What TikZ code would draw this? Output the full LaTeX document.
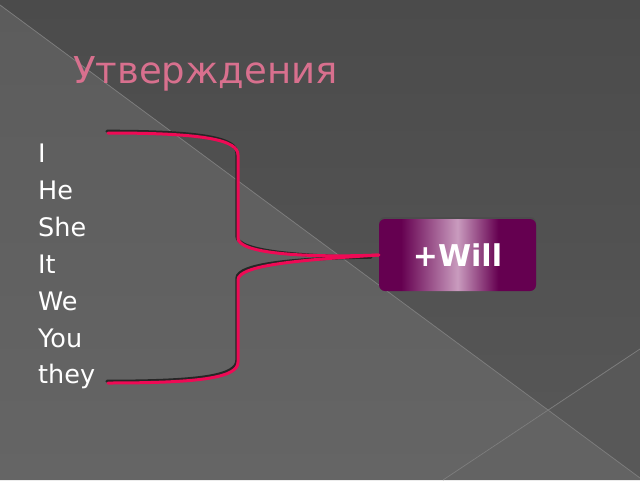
\documentclass[tikz,border=0pt]{standalone}
\usepackage{fontspec}
\setmainfont{DejaVu Sans}
\usetikzlibrary{calc}
\definecolor{bgA}{HTML}{4B4B4B}
\definecolor{bgAb}{HTML}{565656}
\definecolor{bgB}{HTML}{5C5C5C}
\definecolor{bgBb}{HTML}{656565}
\definecolor{bgC}{HTML}{585858}
\definecolor{bgD}{HTML}{636363}
\definecolor{edge}{HTML}{7A7A7A}
\definecolor{titlepink}{HTML}{D8708E}
\definecolor{bracepink}{HTML}{EE0A55}
\definecolor{willdark}{HTML}{650050}
\definecolor{willlight}{HTML}{C99BBE}
\pgfdeclarehorizontalshading{willshade}{100bp}{color(0bp)=(willdark); color(25bp)=(willdark); color(32bp)=(willdark); color(50bp)=(willlight); color(63bp)=(willdark); color(75bp)=(willdark); color(100bp)=(willdark)}
\tikzset{
  listword/.style={anchor=base west, text=white, font=\fontsize{25.5}{30}\selectfont, inner sep=0pt},
  bracepath/.style={draw=bracepink, line width=3pt, line cap=round},
  braceshadow/.style={draw=black!85, line width=3pt, line cap=round},
  edgeline/.style={draw=edge, line width=0.8pt},
  willbox/.style={shading=willshade, rounded corners=6pt, minimum width=157pt, minimum height=72pt, inner sep=0pt, text=white, font=\bfseries\fontsize{30}{34}\selectfont}
}
\begin{document}
\begin{tikzpicture}[x=1pt,y=-1pt]
\useasboundingbox (0,0) rectangle (640,480);
% background regions
\shade[top color=bgA, bottom color=bgAb] (0,0) -- (640,0) -- (640,349) -- (548,410) -- (0,5) -- cycle;
\shade[top color=bgB, bottom color=bgBb] (0,5) -- (548,410) -- (443,480) -- (0,480) -- cycle;
\fill[bgC] (640,349) -- (548,410) -- (640,478) -- cycle;
\fill[bgD] (443,480) -- (548,410) -- (640,478) -- (640,480) -- cycle;
\draw[edgeline] (0,5) -- (640,478);
\draw[edgeline] (443,480) -- (640,349);
% title
\node[anchor=base west, text=titlepink, font=\fontsize{37}{42}\selectfont, inner sep=0pt] (title) at (73,83) {Утверждения};
% list
\node[listword] (w1) at (38,162) {I};
\node[listword] (w2) at (38,199) {He};
\node[listword] (w3) at (38,236) {She};
\node[listword] (w4) at (38,273) {It};
\node[listword] (w5) at (38,310) {We};
\node[listword] (w6) at (38,347) {You};
\node[listword] (w7) at (38,383) {they};
% will box
\fill[black!70, rounded corners=6pt] (379,217) rectangle (536,289);
\node[willbox] (will) at (457.5,255) {+Will};
% brace
\coordinate (btop) at (108,133);
\coordinate (bbot) at (108,383);
\coordinate (tip) at (will.west);
\begin{scope}[shift={(-1.2,-1.8)}]
\draw[braceshadow] (108,133) .. controls (205,133) and (238,140) .. (238,155) -- (238,238) .. controls (238,253) and (300,258) .. (372,259);
\draw[braceshadow] (372,259) .. controls (300,260) and (238,265) .. (238,280) -- (238,362) .. controls (238,377) and (205,383) .. (108,383);
\end{scope}
\draw[bracepath] (btop) .. controls (205,133) and (238,140) .. (238,155) -- (238,238) .. controls (238,253) and (300,258) .. (tip);
\draw[bracepath] (tip) .. controls (300,260) and (238,265) .. (238,280) -- (238,362) .. controls (238,377) and (205,383) .. (bbot);
\end{tikzpicture}
\end{document}
